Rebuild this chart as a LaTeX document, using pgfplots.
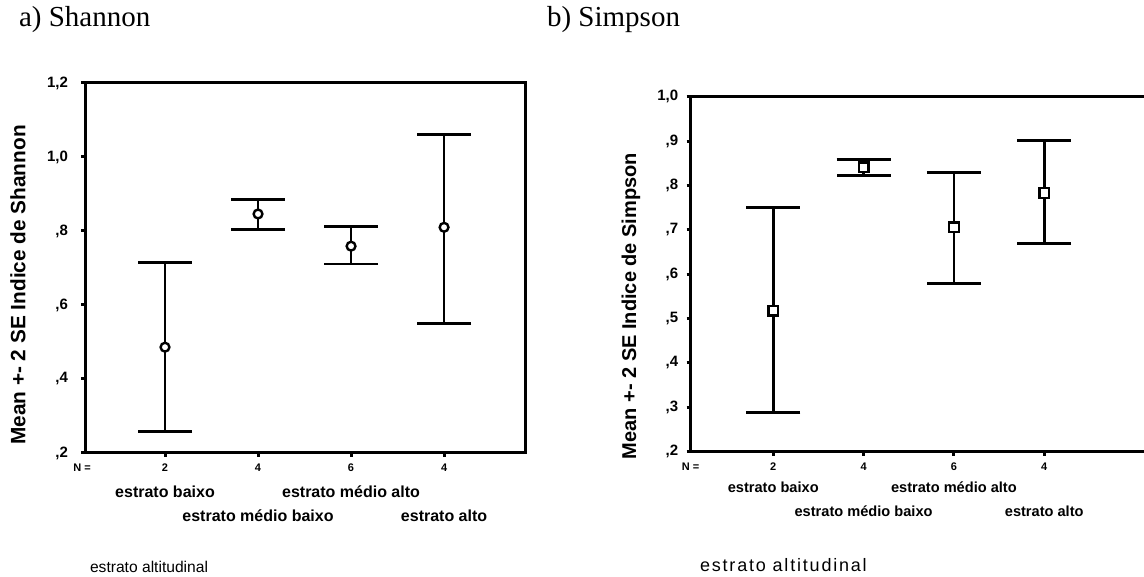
\documentclass[border=0pt]{standalone}
\usepackage{fontspec}
\setmainfont{Liberation Serif}
\setsansfont{Liberation Sans}
\usepackage{pgfplots}
\usepackage{pgfplotstable}
\pgfplotsset{compat=1.18}

% mean, upper and lower distance (2 SE) per altitude stratum
\pgfplotstableread{
x mean ep em
1 0.486 0.228 0.228
2 0.846 0.040 0.043
3 0.759 0.053 0.048
4 0.810 0.251 0.259
}\shannon

\pgfplotstableread{
x mean ep em
1 0.518 0.233 0.229
2 0.841 0.018 0.018
3 0.706 0.123 0.127
4 0.783 0.118 0.114
}\simpson

\pgfplotsset{
  spss/.style={
    scale only axis, anchor=south west, clip=false,
    axis line style={line width=1.5pt},
    xtick={1,2,3,4}, xticklabels={2,4,6,4},
    xtick pos=bottom, ytick pos=left,
    tick align=outside, major tick length=2pt,
    every tick/.style={black, line width=1.5pt},
  },
  errbar/.style={
    black, line width=1.4pt, only marks,
    error bars/y dir=both, error bars/y explicit,
    error bars/error bar style={line width=1.4pt},
    error bars/error mark options={rotate=90, line width=1.4pt, mark size=13.5pt},
  },
}

\begin{document}
\begin{tikzpicture}
\useasboundingbox (0,0) rectangle (572pt,288.5pt);

% ---- a) Shannon
\node[anchor=west, font=\fontsize{14.5}{16}\selectfont] at (6pt,278.5pt) {a) Shannon};
\node[rotate=90, font=\sffamily\bfseries\fontsize{10.4}{12}\selectfont] at (9pt,146pt) {Mean +- 2 SE Indice de Shannon};
\node[anchor=west, font=\sffamily\fontsize{7.8}{10}\selectfont] at (41.5pt,5pt) {estrato altitudinal};

\begin{axis}[spss,
    at={(42.5pt,62pt)}, width=220pt, height=185pt,
    xmin=0.14, xmax=4.87, ymin=0.2, ymax=1.2,
    ytick={0.2,0.4,0.6,0.8,1.0,1.2},
    yticklabels={{,2},{,4},{,6},{,8},{1,0},{1,2}},
    yticklabel style={font=\sffamily\bfseries\fontsize{7.5}{8}\selectfont, xshift=-3pt},
    xticklabel style={font=\sffamily\bfseries\fontsize{5.5}{6}\selectfont},
  ]
  \addplot[errbar, mark=*, mark size=2.2pt, mark options={fill=white, line width=1.2pt}]
    table[x=x, y=mean, y error plus=ep, y error minus=em] {\shannon};
  \begin{scope}[font=\sffamily\bfseries\fontsize{8}{10}\selectfont]
    \node[yshift=-7.5pt, xshift=-1.5pt, font=\sffamily\bfseries\fontsize{5.5}{6}\selectfont] at (rel axis cs:0,0) {N =};
    \node[yshift=-19.5pt] at (axis cs:1,0.2) {estrato baixo};
    \node[yshift=-31.5pt] at (axis cs:2,0.2) {estrato médio baixo};
    \node[yshift=-19.5pt] at (axis cs:3,0.2) {estrato médio alto};
    \node[yshift=-31.5pt] at (axis cs:4,0.2) {estrato alto};
  \end{scope}
\end{axis}

% ---- b) Simpson
\node[anchor=west, font=\fontsize{14.5}{16}\selectfont] at (270pt,278.5pt) {b) Simpson};
\node[rotate=90, font=\sffamily\bfseries\fontsize{10}{12}\selectfont] at (315.5pt,135.5pt) {Mean +- 2 SE Indice de Simpson};
\node[anchor=west, font=\sffamily\fontsize{9}{10}\selectfont\addfontfeature{LetterSpace=10}] at (346.5pt,6pt) {estrato altitudinal};

\begin{axis}[spss,
    at={(345.35pt,62.65pt)}, width=229.65pt, height=177.5pt,
    xmin=0.086, xmax=5.171, ymin=0.2, ymax=1.0,
    ytick={0.2,0.3,0.4,0.5,0.6,0.7,0.8,0.9,1.0},
    yticklabels={{,2},{,3},{,4},{,5},{,6},{,7},{,8},{,9},{1,0}},
    yticklabel style={font=\sffamily\bfseries\fontsize{7.5}{8}\selectfont, xshift=-0.7pt},
    xticklabel style={font=\sffamily\bfseries\fontsize{5.5}{6}\selectfont},
  ]
  \addplot[errbar, mark=square*, mark size=2.4pt, mark options={fill=white, line width=1.2pt}]
    table[x=x, y=mean, y error plus=ep, y error minus=em] {\simpson};
  \begin{scope}[font=\sffamily\bfseries\fontsize{7.3}{9}\selectfont]
    \node[yshift=-7.5pt, font=\sffamily\bfseries\fontsize{5.5}{6}\selectfont] at (rel axis cs:0,0) {N =};
    \node[yshift=-18pt] at (axis cs:1,0.2) {estrato baixo};
    \node[yshift=-30pt] at (axis cs:2,0.2) {estrato médio baixo};
    \node[yshift=-18pt] at (axis cs:3,0.2) {estrato médio alto};
    \node[yshift=-30pt] at (axis cs:4,0.2) {estrato alto};
  \end{scope}
\end{axis}
\end{tikzpicture}
\end{document}
